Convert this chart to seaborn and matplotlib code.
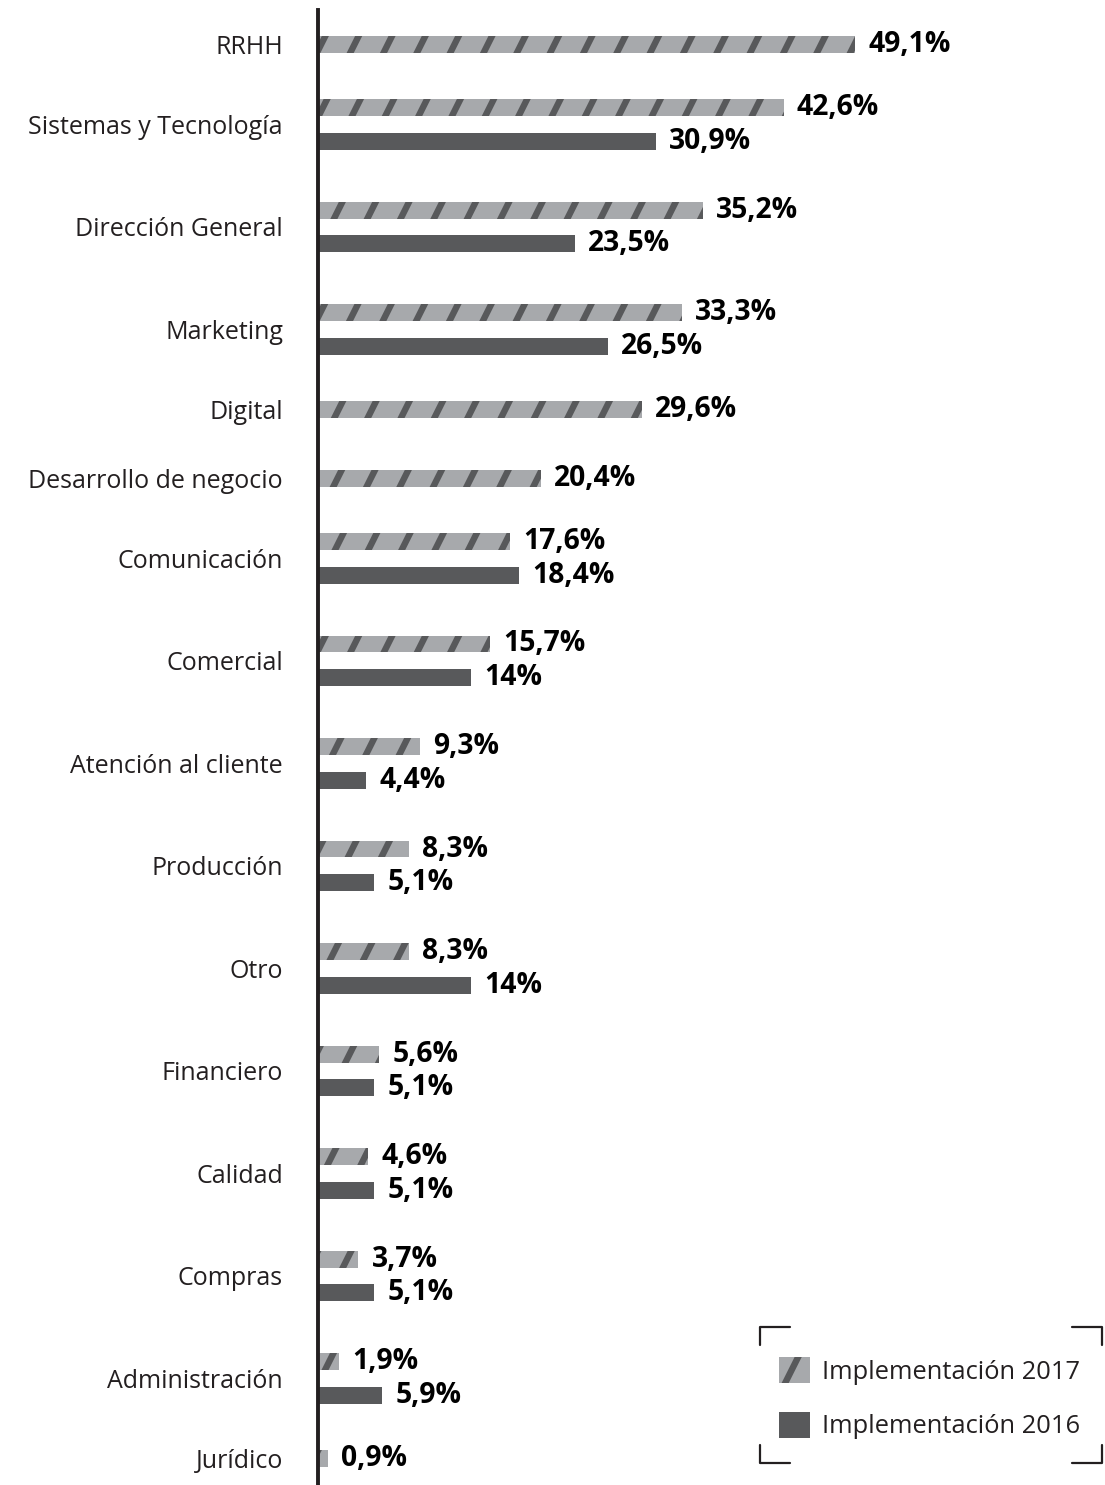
import numpy as np
import matplotlib.pyplot as plt
import matplotlib.patches as mpatches
import matplotlib.hatch as mhatch
from matplotlib.path import Path
from matplotlib.lines import Line2D
import pandas as pd
import seaborn as sns

# datos
categorias = ['RRHH', 'Sistemas y Tecnología', 'Dirección General', 'Marketing', 'Digital',
              'Desarrollo de negocio', 'Comunicación', 'Comercial', 'Atención al cliente',
              'Producción', 'Otro', 'Financiero', 'Calidad', 'Compras', 'Administración', 'Jurídico']
impl_2017 = [49.1, 42.6, 35.2, 33.3, 29.6, 20.4, 17.6, 15.7, 9.3, 8.3, 8.3, 5.6, 4.6, 3.7, 1.9, 0.9]
impl_2016 = [None, 30.9, 23.5, 26.5, None, None, 18.4, 14, 4.4, 5.1, 14, 5.1, 5.1, 5.1, 5.9, None]
series = ['Implementación 2017', 'Implementación 2016']

gris_claro = '#a7a9ac'
gris_oscuro = '#58595b'
negro = '#231f20'


# rayado "/" mas empinado que el de matplotlib (pendiente 2)
class RayaEmpinada(mhatch.HatchPatternBase):
    def __init__(self, hatch, density):
        self.n = int(hatch.count('/') * density)
        if self.n:
            self.ks = np.arange(-self.n // 2 - 1, self.n + 1)
            self.num_vertices = len(self.ks) * 2
        else:
            self.num_vertices = 0

    def set_vertices_and_codes(self, vertices, codes):
        x0 = self.ks / self.n + 0.05
        vertices[0::2, 0] = x0
        vertices[0::2, 1] = 0
        vertices[1::2, 0] = x0 + 0.5
        vertices[1::2, 1] = 1
        codes[0::2] = Path.MOVETO
        codes[1::2] = Path.LINETO


mhatch._hatch_types = [RayaEmpinada if t is mhatch.NorthEastHatch else t
                       for t in mhatch._hatch_types]

sns.set_theme(style='white')
plt.rcParams['font.family'] = ['Open Sans', 'DejaVu Sans']
plt.rcParams['hatch.linewidth'] = 2.3
plt.rcParams['hatch.color'] = gris_oscuro

# posiciones verticales de los grupos (en px): los grupos con dos barras ocupan mas
sep = 34
saltos = {(False, False): 70, (False, True): 80, (True, False): 80, (True, True): 103}
centros = []
y = 0
prev_doble = None
for v in impl_2016:
    doble = v is not None
    if prev_doble is not None:
        y += saltos[(prev_doble, doble)]
    centros.append(y)
    prev_doble = doble

filas = []
for c, a, b in zip(centros, impl_2017, impl_2016):
    if b is None:
        filas.append((c, a, series[0]))
    else:
        filas.append((c - sep / 2, a, series[0]))
        filas.append((c + sep / 2, b, series[1]))
df = pd.DataFrame(filas, columns=['pos', 'valor', 'serie'])

W, H = 1105, 1485
fig = plt.figure(figsize=(W / 200, H / 200), dpi=200)
fig.patch.set_facecolor('white')
ax = fig.add_axes([318 / W, 0, (W - 318) / W, 1475 / H])

sns.barplot(data=df, x='valor', y='pos', hue='serie', hue_order=series,
            palette=[gris_claro, gris_oscuro], orient='y', native_scale=True,
            dodge=False, width=0.5, errorbar=None, legend=False, saturation=1,
            linewidth=0, ax=ax)

def fmt(v):
    return f"{round(v, 1):g}".replace('.', ',') + '%'

for p in ax.patches:
    fc = p.get_facecolor()
    if abs(fc[0] - 0xa7 / 255) < 0.02:
        p.set_hatch('/')
        p.set_edgecolor(gris_oscuro)
        p.set_linewidth(0)
        if hasattr(p, 'set_hatch_linewidth'):
            p.set_hatch_linewidth(2.3)
    w = p.get_width()
    ax.annotate(fmt(w), (w, p.get_y() + p.get_height() / 2), xytext=(4.8, 0),
                textcoords='offset points', va='center', ha='left',
                fontsize=10.2, fontweight='bold', color='black')

ax.set_ylim(centros[-1] + 27, -35)
ax.set_xlim(0, 72)
ax.set_yticks(centros, labels=categorias)
ax.set_xticks([])
ax.tick_params(axis='y', length=0, pad=12.6, labelsize=9.0, labelcolor=negro)
ax.set_xlabel('')
ax.set_ylabel('')
for s in ['top', 'right', 'bottom']:
    ax.spines[s].set_visible(False)
ax.spines['left'].set_linewidth(1.4)
ax.spines['left'].set_color(negro)

# leyenda
h17 = mpatches.Patch(facecolor=gris_claro, edgecolor=gris_oscuro, hatch='/', linewidth=0)
if hasattr(h17, 'set_hatch_linewidth'):
    h17.set_hatch_linewidth(2.3)
handles = [h17, mpatches.Patch(facecolor=gris_oscuro, linewidth=0)]
fig.legend(handles, series, loc='upper left', bbox_to_anchor=(779 / W, 1 - 1357 / H),
           frameon=False, fontsize=9.2, handlelength=1.2, handleheight=1.2,
           handletextpad=0.5, labelspacing=1.05, borderpad=0, borderaxespad=0,
           labelcolor=negro)

# esquinas del marco de la leyenda
x0, x1, y0, y1, L = 760, 1102, 1327, 1463, 30
esquinas = [
    ([x0 + L, x0, x0], [y0, y0, y0 + L * 0.6]),
    ([x1 - L, x1, x1], [y0, y0, y0 + L * 0.6]),
    ([x0, x0, x0 + L], [y1 - L * 0.6, y1, y1]),
    ([x1, x1, x1 - L], [y1 - L * 0.6, y1, y1]),
]
for xs, ys in esquinas:
    fig.add_artist(Line2D([v / W for v in xs], [1 - v / H for v in ys],
                          transform=fig.transFigure, color=negro, linewidth=0.8))

fig.savefig('out.png', dpi=200)
